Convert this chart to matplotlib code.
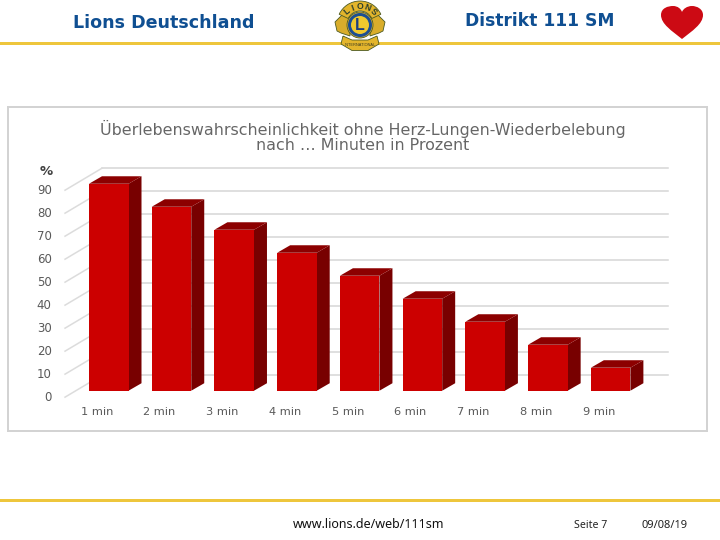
#!/usr/bin/env python3
"""
Slide with a pseudo 3D bar chart (survival chance without CPR).
"""

import numpy as np
import matplotlib
matplotlib.use("Agg")
import matplotlib.pyplot as plt
from matplotlib.patches import Polygon, Circle, PathPatch, Rectangle, Wedge
from matplotlib.path import Path

# Data
categories = ["1 min", "2 min", "3 min", "4 min", "5 min", "6 min", "7 min", "8 min", "9 min"]
values = [90, 80, 70, 60, 50, 40, 30, 20, 10]
y_ticks = [0, 10, 20, 30, 40, 50, 60, 70, 80, 90]

# Constants for the fake 3D look (data units)
BAR_WIDTH = 0.63
DEPTH_X = 0.207
DEPTH_Y = 3.26
GRID_BACK_X = -0.106
GRID_RIGHT_X = 8.91
FRONT_X = -0.697
FRONT_DY = -2.8
BACK_DY = 6.8

FRONT_RED = "#cc0000"
SIDE_RED = "#780000"
TOP_RED = "#8c0000"
GRID = "#d6d6d6"
LABEL = "#595959"
GOLD = "#eec63c"
BLUE = "#0f4f92"

fig = plt.figure(figsize=(7.2, 5.4), dpi=100, facecolor="white")

# Overlay in pixel coordinates for slide decoration
deco = fig.add_axes([0, 0, 1, 1])
deco.set_xlim(0, 720)
deco.set_ylim(540, 0)
deco.axis("off")

deco.add_patch(Rectangle((0, 42), 720, 3, color=GOLD, lw=0))
deco.add_patch(Rectangle((0, 499), 720, 3, color=GOLD, lw=0))

deco.text(73, 22.5, "Lions Deutschland", fontsize=12.6, fontweight="bold", color=BLUE,
          family="DejaVu Sans", va="center", ha="left")
deco.text(465, 21.5, "Distrikt 111 SM", fontsize=12.3, fontweight="bold", color=BLUE,
          family="DejaVu Sans", va="center", ha="left")
deco.text(293, 525, "www.lions.de/web/111sm", fontsize=9.0, color="#111111",
          family="Noto Sans", va="center", ha="left")
deco.text(574, 525.5, "Seite 7", fontsize=7.6, color="#222222",
          family="Noto Sans", va="center", ha="left")
deco.text(641, 525.5, "09/08/19", fontsize=8.0, color="#222222",
          family="Noto Sans", va="center", ha="left")

# Heart
heart = Path(
    [(682, 39), (672, 31), (661, 24), (661, 15), (661, 8), (668, 6), (673, 6),
     (678, 6), (681, 9), (682, 12), (683, 9), (687, 6), (692, 6),
     (697, 6), (703, 9), (703, 15), (703, 24), (692, 31), (682, 39)],
    [Path.MOVETO] + [Path.CURVE4] * 18,
)
deco.add_patch(PathPatch(heart, facecolor="#cc0a14", edgecolor="none"))

# Lions logo
LOGO_GOLD = "#e3b52c"
LOGO_EDGE = "#4c5a22"
wing_l = [(335, 22), (342, 15), (350, 14), (350, 36), (341, 33), (337, 31)]
wing_r = [(385, 22), (378, 15), (370, 14), (370, 36), (379, 33), (383, 31)]
deco.add_patch(Polygon(wing_l, facecolor="#d9ad2b", edgecolor=LOGO_EDGE, lw=0.6))
deco.add_patch(Polygon(wing_r, facecolor="#d9ad2b", edgecolor=LOGO_EDGE, lw=0.6))
# y axis is flipped, so the arch over the top runs from 205 to 335 degrees
deco.add_patch(Wedge((360, 24), 23, 205, 335, width=10, facecolor=LOGO_GOLD, edgecolor=LOGO_EDGE, lw=0.6))
deco.add_patch(Circle((360, 25), 13, facecolor=LOGO_GOLD, edgecolor=LOGO_EDGE, lw=0.6))
deco.add_patch(Circle((360, 25), 12, facecolor="#1c4f93", edgecolor="none"))
deco.add_patch(Circle((360, 25), 9, facecolor="#f0c92e", edgecolor="none"))
deco.text(360, 25, "L", fontsize=11.5, fontweight="bold", color="#1c3f80",
          family="Liberation Sans", ha="center", va="center")
banner = Path(
    [(343, 36), (352, 40), (368, 40), (377, 36), (379, 44), (368, 50.5), (352, 50.5), (341, 44), (343, 36)],
    [Path.MOVETO] + [Path.LINETO] * 8,
)
deco.add_patch(PathPatch(banner, facecolor=LOGO_GOLD, edgecolor=LOGO_EDGE, lw=0.6))
deco.text(360, 45.5, "INTERNATIONAL", fontsize=2.8, color="#3a3a20", ha="center", va="center",
          family="Liberation Sans")
for ch, lx, ly, rot in zip("LIONS", [346.5, 352.5, 360, 367.5, 373.5], [11.5, 8, 6.5, 8, 11.5], [40, 20, 0, -20, -40]):
    deco.text(lx, ly, ch, fontsize=6.2, fontweight="bold", color="#2b3f2c",
              rotation=rot, ha="center", va="center", family="Liberation Sans")

# Chart, the axes frame is the grey picture border
ax = fig.add_axes([8 / 720, 1 - 430.5 / 540, 699 / 720, 324 / 540])
ax.set_xlim(-1.606, 9.536)
ax.set_ylim(-17.3, 123.6)
ax.set_xticks([])
ax.set_yticks([])
for s in ax.spines.values():
    s.set_color("#d2d2d2")
    s.set_linewidth(1.4)

# Grid: back wall lines plus the diagonal side wall
for v in y_ticks:
    ax.plot([GRID_BACK_X, GRID_RIGHT_X], [v + BACK_DY, v + BACK_DY], color=GRID, lw=1.1, zorder=1)
    ax.plot([FRONT_X, GRID_BACK_X], [v + FRONT_DY, v + BACK_DY], color="#dcdcdc", lw=1.1, zorder=1)
    ax.text(-0.91, v + FRONT_DY, str(v), color=LABEL, fontsize=8.5, ha="right", va="center")

ax.text(-0.99, 95.2, "%", color="#404040", fontsize=9.5, fontweight="bold", ha="center", va="center")

# Bars
x = np.arange(len(values))
ax.bar(x, values, width=BAR_WIDTH, color=FRONT_RED, edgecolor="none", zorder=3)
for xi, v in zip(x, values):
    left = xi - BAR_WIDTH / 2
    right = xi + BAR_WIDTH / 2
    side = [(right, 0), (right + DEPTH_X, DEPTH_Y), (right + DEPTH_X, v + DEPTH_Y), (right, v)]
    top = [(left, v), (left + DEPTH_X, v + DEPTH_Y), (right + DEPTH_X, v + DEPTH_Y), (right, v)]
    ax.add_patch(Polygon(side, facecolor=SIDE_RED, edgecolor="none", zorder=2.5))
    ax.add_patch(Polygon(top, facecolor=TOP_RED, edgecolor="none", zorder=2.5))
    ax.text(xi - 0.19, -9.2, categories[xi], color=LABEL, fontsize=8.2, ha="center", va="center")

ax.text(4.05, 114.0, "Überlebenswahrscheinlichkeit ohne Herz-Lungen-Wiederbelebung",
        color="#666666", fontsize=11.4, ha="center", va="center")
ax.text(4.05, 106.8, "nach … Minuten in Prozent",
        color="#666666", fontsize=11.4, ha="center", va="center")

fig.savefig("out.png", dpi=100)
